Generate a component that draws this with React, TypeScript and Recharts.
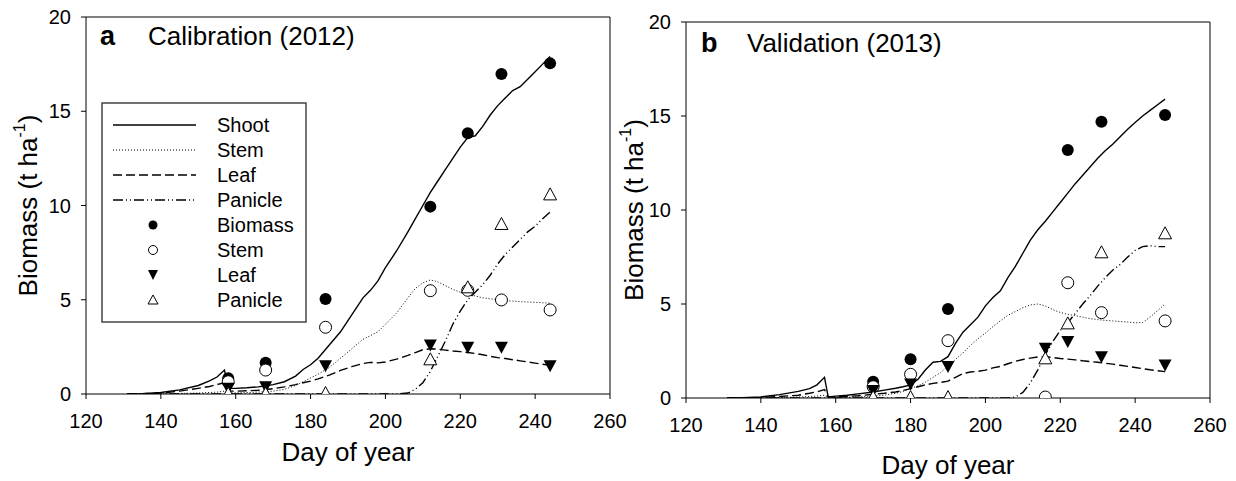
import React from "react";
import { ComposedChart, Line, Scatter, XAxis, YAxis, ReferenceLine } from "recharts";

const FONT = "'Liberation Sans', Arial, sans-serif";

const xTicks = [120, 140, 160, 180, 200, 220, 240, 260];
const yTicks = [0, 5, 10, 15, 20];

// ---- a: Calibration (2012), simulated
const simDaysA = [131, 135, 140, 145, 150, 153, 155, 157, 158, 160, 163, 166, 170, 173, 176, 178, 180, 182, 185, 188, 191, 194, 196, 198, 200, 203, 206, 208, 210, 212, 214, 216, 218, 220, 222, 224, 226, 228, 230, 232, 234, 236, 238, 240, 242, 244];
const shootSimA = [0, 0.02, 0.08, 0.22, 0.45, 0.7, 0.9, 1.27, 0.3, 0.3, 0.33, 0.38, 0.5, 0.65, 0.95, 1.3, 1.55, 1.9, 2.6, 3.3, 4.2, 5.1, 5.5, 6.0, 6.7, 7.6, 8.6, 9.3, 10.0, 10.7, 11.3, 11.9, 12.5, 13.1, 13.6, 13.7, 14.2, 14.8, 15.3, 15.7, 16.1, 16.3, 16.7, 17.1, 17.5, 17.9];
const stemSimA = [0, 0, 0.01, 0.03, 0.05, 0.08, 0.1, 0.15, 0.05, 0.06, 0.08, 0.1, 0.15, 0.25, 0.45, 0.65, 0.85, 1.05, 1.4, 1.9, 2.4, 2.9, 3.1, 3.3, 3.7, 4.3, 5.1, 5.6, 5.9, 6.05, 5.95, 5.75, 5.55, 5.4, 5.3, 5.2, 5.1, 5.05, 5.0, 4.95, 4.93, 4.9, 4.88, 4.86, 4.84, 4.82];
const leafSimA = [0, 0.01, 0.05, 0.15, 0.3, 0.4, 0.5, 0.6, 0.15, 0.15, 0.17, 0.2, 0.28, 0.38, 0.5, 0.6, 0.68, 0.8, 1.0, 1.25, 1.45, 1.62, 1.68, 1.65, 1.7, 1.85, 2.05, 2.2, 2.35, 2.4, 2.38, 2.33, 2.28, 2.25, 2.2, 2.15, 2.08, 2.0, 1.93, 1.88, 1.82, 1.76, 1.7, 1.64, 1.58, 1.52];
const panicleSimA = [0, 0, 0, 0, 0, 0, 0, 0, 0, 0, 0, 0, 0, 0, 0, 0, 0, 0, 0, 0, 0, 0, 0, 0, 0, 0, 0.05, 0.25, 0.6, 1.2, 2.0, 2.8, 3.7, 4.4, 5.0, 5.4, 5.8, 6.3, 6.9, 7.4, 7.8, 8.2, 8.6, 8.9, 9.3, 9.65];

// ---- a: observed
const obsDaysA = [158, 168, 184, 212, 222, 231, 244];
const biomassObsA = [0.83, 1.66, 5.04, 9.94, 13.83, 16.98, 17.54];
const stemObsA = [0.65, 1.27, 3.54, 5.48, 5.5, 4.99, 4.46];
const leafObsA = [0.3, 0.39, 1.5, 2.6, 2.48, 2.48, 1.5];
const panicleObsA = [0.02, 0.02, 0.05, 1.84, 5.66, 9.02, 10.59];

// ---- b: Validation (2013), simulated
const simDaysB = [131, 135, 140, 145, 150, 153, 155, 157, 158, 160, 163, 166, 170, 173, 176, 178, 180, 182, 184, 186, 188, 190, 192, 194, 196, 198, 200, 202, 204, 206, 208, 210, 212, 214, 216, 218, 220, 222, 224, 226, 228, 230, 232, 234, 236, 238, 240, 242, 244, 246, 248];
const shootSimB = [0, 0.02, 0.06, 0.18, 0.35, 0.5, 0.7, 1.1, 0.05, 0.1, 0.15, 0.22, 0.32, 0.42, 0.52, 0.6, 0.7, 1.0, 1.5, 1.9, 1.95, 2.2, 2.9, 3.5, 3.9, 4.3, 4.9, 5.35, 5.7, 6.4, 7.0, 7.7, 8.4, 8.95, 9.4, 9.9, 10.4, 10.9, 11.4, 11.85, 12.3, 12.75, 13.15, 13.5, 13.9, 14.3, 14.65, 15.0, 15.3, 15.6, 15.9];
const stemSimB = [0, 0, 0.01, 0.03, 0.05, 0.08, 0.1, 0.15, 0.02, 0.03, 0.04, 0.06, 0.1, 0.15, 0.25, 0.35, 0.5, 0.65, 0.85, 1.1, 1.35, 1.7, 2.05, 2.4, 2.8, 3.15, 3.45, 3.8, 4.1, 4.4, 4.6, 4.8, 4.95, 5.0, 4.9, 4.7, 4.55, 4.45, 4.38, 4.3, 4.22, 4.17, 4.13, 4.1, 4.07, 4.04, 4.0, 4.02, 4.3, 4.65, 5.0];
const leafSimB = [0, 0.01, 0.03, 0.08, 0.15, 0.25, 0.33, 0.45, 0.05, 0.06, 0.08, 0.12, 0.2, 0.25, 0.32, 0.4, 0.5, 0.6, 0.7, 0.78, 0.83, 0.9, 1.1, 1.3, 1.38, 1.42, 1.48, 1.6, 1.68, 1.82, 1.95, 2.05, 2.12, 2.18, 2.2, 2.15, 2.1, 2.07, 2.03, 1.98, 1.94, 1.9, 1.85, 1.8, 1.74, 1.68, 1.62, 1.56, 1.5, 1.45, 1.4];
const panicleSimB = [0, 0, 0, 0, 0, 0, 0, 0, 0, 0, 0, 0, 0, 0, 0, 0, 0, 0, 0, 0, 0, 0, 0, 0, 0, 0, 0, 0, 0, 0, 0.05, 0.3, 0.8, 1.5, 2.3, 3.0, 3.6, 4.0, 4.5, 5.0, 5.45, 5.95, 6.4, 6.8, 7.1, 7.5, 7.85, 8.05, 8.1, 8.05, 8.05];

// ---- b: observed
const obsDaysB = [170, 180, 190, 216, 222, 231, 248];
const biomassObsB = [0.87, 2.06, 4.73, null, 13.19, 14.7, 15.05];
const stemObsB = [0.6, 1.26, 3.05, 0.05, 6.13, 4.54, 4.1];
const leafObsB = [0.4, 0.74, 1.67, 2.64, 3.0, 2.2, 1.76];
const panicleObsB = [0.05, 0.05, 0.05, 2.11, 3.97, 7.75, 8.76];

const lineNames = ["Shoot", "Stem", "Leaf", "Panicle"];
const pointNames = ["Biomass", "Stem", "Leaf", "Panicle"];

const pts = (days: number[], vals: (number | null)[]) =>
  days.map((d, i) => ({ day: d, value: vals[i] })).filter((p) => p.value != null);

const dashes = [undefined, "1 2", "9 4", "10 3 1 3 1 3"];
const widths = [1.4, 1, 1.4, 1.4];

const filledDot = (p: any) => <circle cx={p.cx} cy={p.cy} r={6} fill="#000" />;
const openDot = (p: any) => <circle cx={p.cx} cy={p.cy} r={6} fill="#fff" stroke="#000" strokeWidth={1} />;
const triDown = (p: any) => (
  <path d={`M${p.cx - 6.5},${p.cy - 5.5} L${p.cx + 6.5},${p.cy - 5.5} L${p.cx},${p.cy + 6.5} Z`} fill="#000" />
);
const triUp = (p: any) => (
  <path d={`M${p.cx - 6.5},${p.cy + 5.5} L${p.cx + 6.5},${p.cy + 5.5} L${p.cx},${p.cy - 6.5} Z`} fill="#fff" stroke="#000" strokeWidth={1} />
);
const shapes = [filledDot, openDot, triDown, triUp];

function LegendBox() {
  return (
    <svg width={206} height={221} style={{ position: "absolute", left: 101, top: 102 }}>
      <rect x={1} y={1} width={204} height={219} fill="#fff" stroke="#444" strokeWidth={1.5} />
      {lineNames.map((n, i) => {
        const y = 23 + i * 25;
        return (
          <g key={"l" + i}>
            <line x1={12} x2={95} y1={y} y2={y} stroke="#000" strokeWidth={widths[i]} strokeDasharray={dashes[i]} />
            <text x={116} y={y + 7} fontSize={20} fontFamily={FONT}>{n}</text>
          </g>
        );
      })}
      {pointNames.map((n, i) => {
        const y = 23 + (i + 4) * 25;
        const cx = 52;
        let mark;
        if (i === 0) mark = <circle cx={cx} cy={y} r={4.5} fill="#000" />;
        else if (i === 1) mark = <circle cx={cx} cy={y} r={4.5} fill="#fff" stroke="#000" />;
        else if (i === 2) mark = <path d={`M${cx - 5},${y - 5} L${cx + 5},${y - 5} L${cx},${y + 5} Z`} fill="#000" />;
        else mark = <path d={`M${cx - 5},${y + 4} L${cx + 5},${y + 4} L${cx},${y - 5} Z`} fill="#fff" stroke="#000" />;
        return (
          <g key={"p" + i}>
            {mark}
            <text x={116} y={y + 7} fontSize={20} fontFamily={FONT}>{n}</text>
          </g>
        );
      })}
    </svg>
  );
}

type PanelProps = {
  left: number;
  width: number;
  margin: { top: number; right: number; bottom: number; left: number };
  tag: string;
  title: string;
  titlePos: { tagX: number; titleX: number; y: number };
  yLabelShift: number;
  xLabelY: number;
  simDays: number[];
  sims: number[][];
  obsDays: number[];
  obs: (number | null)[][];
  legend?: boolean;
};

function Panel(props: PanelProps) {
  const { left, width, margin, tag, title, titlePos, yLabelShift, xLabelY, simDays, sims, obsDays, obs, legend } = props;
  return (
    <div style={{ position: "absolute", left, top: 0, width, height: 481 }}>
      <ComposedChart width={width} height={481} margin={margin}>
        <XAxis
          type="number"
          dataKey="day"
          domain={[120, 260]}
          ticks={xTicks}
          allowDataOverflow
          height={60}
          tickSize={5}
          tickMargin={15}
          stroke="#000"
          tick={{ fill: "#000", fontSize: 20, fontFamily: FONT }}
          label={{
            content: (lp: any) => {
              const vb = lp.viewBox;
              return (
                <text x={vb.x + vb.width / 2} y={xLabelY} textAnchor="middle" fontSize={26} fontFamily={FONT} fill="#000">
                  Day of year
                </text>
              );
            },
          }}
        />
        <YAxis
          type="number"
          dataKey="value"
          domain={[0, 20]}
          ticks={yTicks}
          allowDataOverflow
          width={60}
          tickSize={5}
          tickMargin={10}
          stroke="#000"
          tick={{ fill: "#000", fontSize: 20, fontFamily: FONT }}
          label={{
            content: (lp: any) => {
              const vb = lp.viewBox;
              const x = vb.x + vb.width - yLabelShift;
              const y = vb.y + vb.height / 2;
              return (
                <text x={x} y={y} transform={`rotate(-90, ${x}, ${y})`} textAnchor="middle" dominantBaseline="central" fontSize={26} fontFamily={FONT} fill="#000">
                  Biomass (t ha<tspan dy={-9} fontSize={16}>-1</tspan><tspan dy={9}>)</tspan>
                </text>
              );
            },
          }}
        />
        <ReferenceLine y={20} stroke="#000" strokeWidth={1} />
        <ReferenceLine x={260} stroke="#000" strokeWidth={1} />
        {sims.map((vals, i) => (
          <Line
            key={"sim" + i}
            data={pts(simDays, vals)}
            dataKey="value"
            type="linear"
            stroke="#000"
            strokeWidth={widths[i]}
            strokeDasharray={dashes[i]}
            dot={false}
            isAnimationActive={false}
          />
        ))}
        {obs.map((vals, i) => (
          <Scatter
            key={"obs" + i}
            data={pts(obsDays, vals)}
            dataKey="value"
            shape={shapes[i]}
            isAnimationActive={false}
          />
        ))}
      </ComposedChart>
      <svg width={width} height={481} style={{ position: "absolute", left: 0, top: 0, pointerEvents: "none" }}>
        <text x={titlePos.tagX} y={titlePos.y} fontSize={27} fontWeight="bold" fontFamily={FONT} fill="#000">{tag}</text>
        <text x={titlePos.titleX} y={titlePos.y} fontSize={26} fontFamily={FONT} fill="#000">{title}</text>
      </svg>
      {legend ? <LegendBox /> : null}
    </div>
  );
}

export default function App() {
  return (
    <div style={{ position: "absolute", left: 0, top: 0, width: 1236, height: 481, background: "#fff", overflow: "hidden" }}>
      <Panel
        left={0}
        width={640}
        margin={{ top: 17, right: 30, bottom: 27, left: 26 }}
        tag="a"
        title="Calibration (2012)"
        titlePos={{ tagX: 100, titleX: 148, y: 45 }}
        yLabelShift={58}
        xLabelY={461}
        simDays={simDaysA}
        sims={[shootSimA, stemSimA, leafSimA, panicleSimA]}
        obsDays={obsDaysA}
        obs={[biomassObsA, stemObsA, leafObsA, panicleObsA]}
        legend
      />
      <Panel
        left={616}
        width={620}
        margin={{ top: 22, right: 26, bottom: 23, left: 10 }}
        tag="b"
        title="Validation (2013)"
        titlePos={{ tagX: 85, titleX: 131, y: 52 }}
        yLabelShift={52}
        xLabelY={474}
        simDays={simDaysB}
        sims={[shootSimB, stemSimB, leafSimB, panicleSimB]}
        obsDays={obsDaysB}
        obs={[biomassObsB, stemObsB, leafObsB, panicleObsB]}
      />
    </div>
  );
}
